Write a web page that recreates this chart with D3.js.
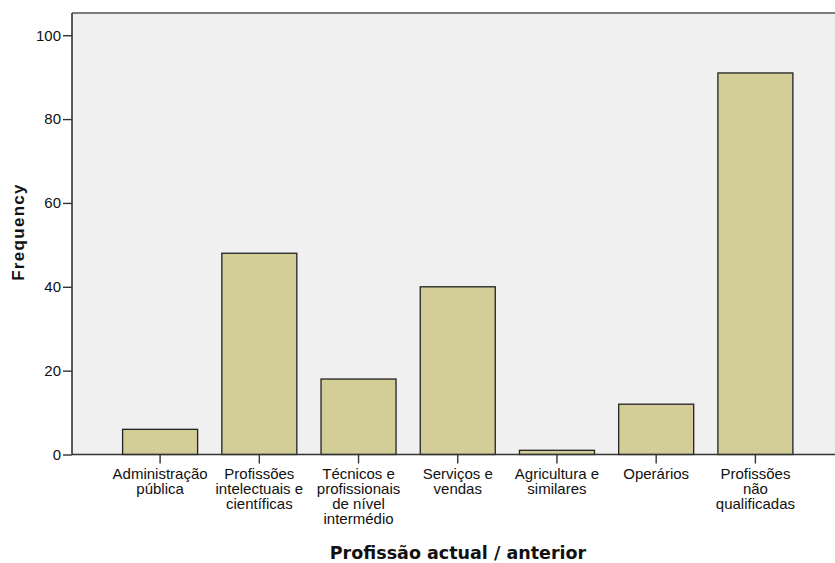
<!DOCTYPE html>
<html><head><meta charset="utf-8">
<script src="https://cdn.jsdelivr.net/npm/d3@7"></script>
<style>body{margin:0;background:#fff}svg{display:block}</style>
</head><body>
<script>
const categories = [
  ["Administração","pública"],
  ["Profissões","intelectuais e","científicas"],
  ["Técnicos e","profissionais","de nível","intermédio"],
  ["Serviços e","vendas"],
  ["Agricultura e","similares"],
  ["Operários"],
  ["Profissões","não","qualificadas"]
];
const frequency = [6, 48, 18, 40, 1, 12, 91];
const yTicks = [0, 20, 40, 60, 80, 100];
const xTitle = "Profissão actual / anterior";
const yTitle = "Frequency";

const W = 835, H = 563;
const plot = {left: 72, right: 837, top: 13, bottom: 454.5};
const svg = d3.select("body").append("svg").attr("width", W).attr("height", H);

const keys = categories.map((c,i)=>i);
const x = d3.scaleBand().domain(keys).range([110.5, 805]).paddingInner(0.244).paddingOuter(0.122);
const y = d3.scaleLinear().domain([0, 105.3]).range([plot.bottom, plot.top]);

svg.append("rect").attr("x", plot.left).attr("y", plot.top)
  .attr("width", plot.right - plot.left).attr("height", plot.bottom - plot.top)
  .attr("fill", "#f0f0f0");

svg.append("g").selectAll("rect").data(frequency).join("rect")
  .attr("x", (d,i)=>x(i)).attr("width", x.bandwidth())
  .attr("y", d=>y(d)).attr("height", d=>y(0)-y(d))
  .attr("fill", "#d3ce97").attr("stroke", "#222").attr("stroke-width", 1.3);

// frame
svg.append("line").attr("x1", plot.left).attr("x2", plot.right).attr("y1", plot.top).attr("y2", plot.top)
  .attr("stroke", "#555").attr("stroke-width", 1.6);

const yAxis = svg.append("g").attr("transform", `translate(${plot.left},0)`)
  .call(d3.axisLeft(y).tickValues(yTicks).tickSize(9).tickPadding(2).tickFormat(d3.format("d")));
yAxis.select(".domain").attr("d", `M0,${plot.top}V${plot.bottom}`).attr("stroke", "#333").attr("stroke-width", 1.6);
yAxis.selectAll(".tick line").attr("stroke", "#333").attr("stroke-width", 1.4);
yAxis.selectAll(".tick text").attr("font-family", "Liberation Sans, Arial, sans-serif").attr("font-size", 15).attr("fill", "#111");

const xAxis = svg.append("g").attr("transform", `translate(0,${plot.bottom})`)
  .call(d3.axisBottom(x).tickSize(9).tickFormat(""));
xAxis.select(".domain").attr("d", `M${plot.left},0H${plot.right}`).attr("stroke", "#333").attr("stroke-width", 1.6);
xAxis.selectAll(".tick line").attr("stroke", "#333").attr("stroke-width", 1.4);
xAxis.selectAll(".tick").each(function(d){
  const t = d3.select(this).append("text")
    .attr("text-anchor", "middle").attr("font-family", "Liberation Sans, Arial, sans-serif")
    .attr("font-size", 15).attr("fill", "#111");
  categories[d].forEach((line, j)=>{
    t.append("tspan").attr("x", 0).attr("y", 24.5 + j*15).text(line);
  });
});

svg.append("text").attr("x", 458).attr("y", 559)
  .attr("text-anchor", "middle").attr("font-family", "DejaVu Sans, sans-serif")
  .attr("font-weight", "bold").attr("font-size", 17.5).attr("fill", "#111").text(xTitle);

svg.append("text").attr("transform", "translate(24,232) rotate(-90)")
  .attr("text-anchor", "middle").attr("font-family", "Liberation Sans, Arial, sans-serif")
  .attr("font-weight", "bold").attr("font-size", 17).attr("letter-spacing", 1.3).attr("fill", "#111").text(yTitle);
</script>
</body></html>
